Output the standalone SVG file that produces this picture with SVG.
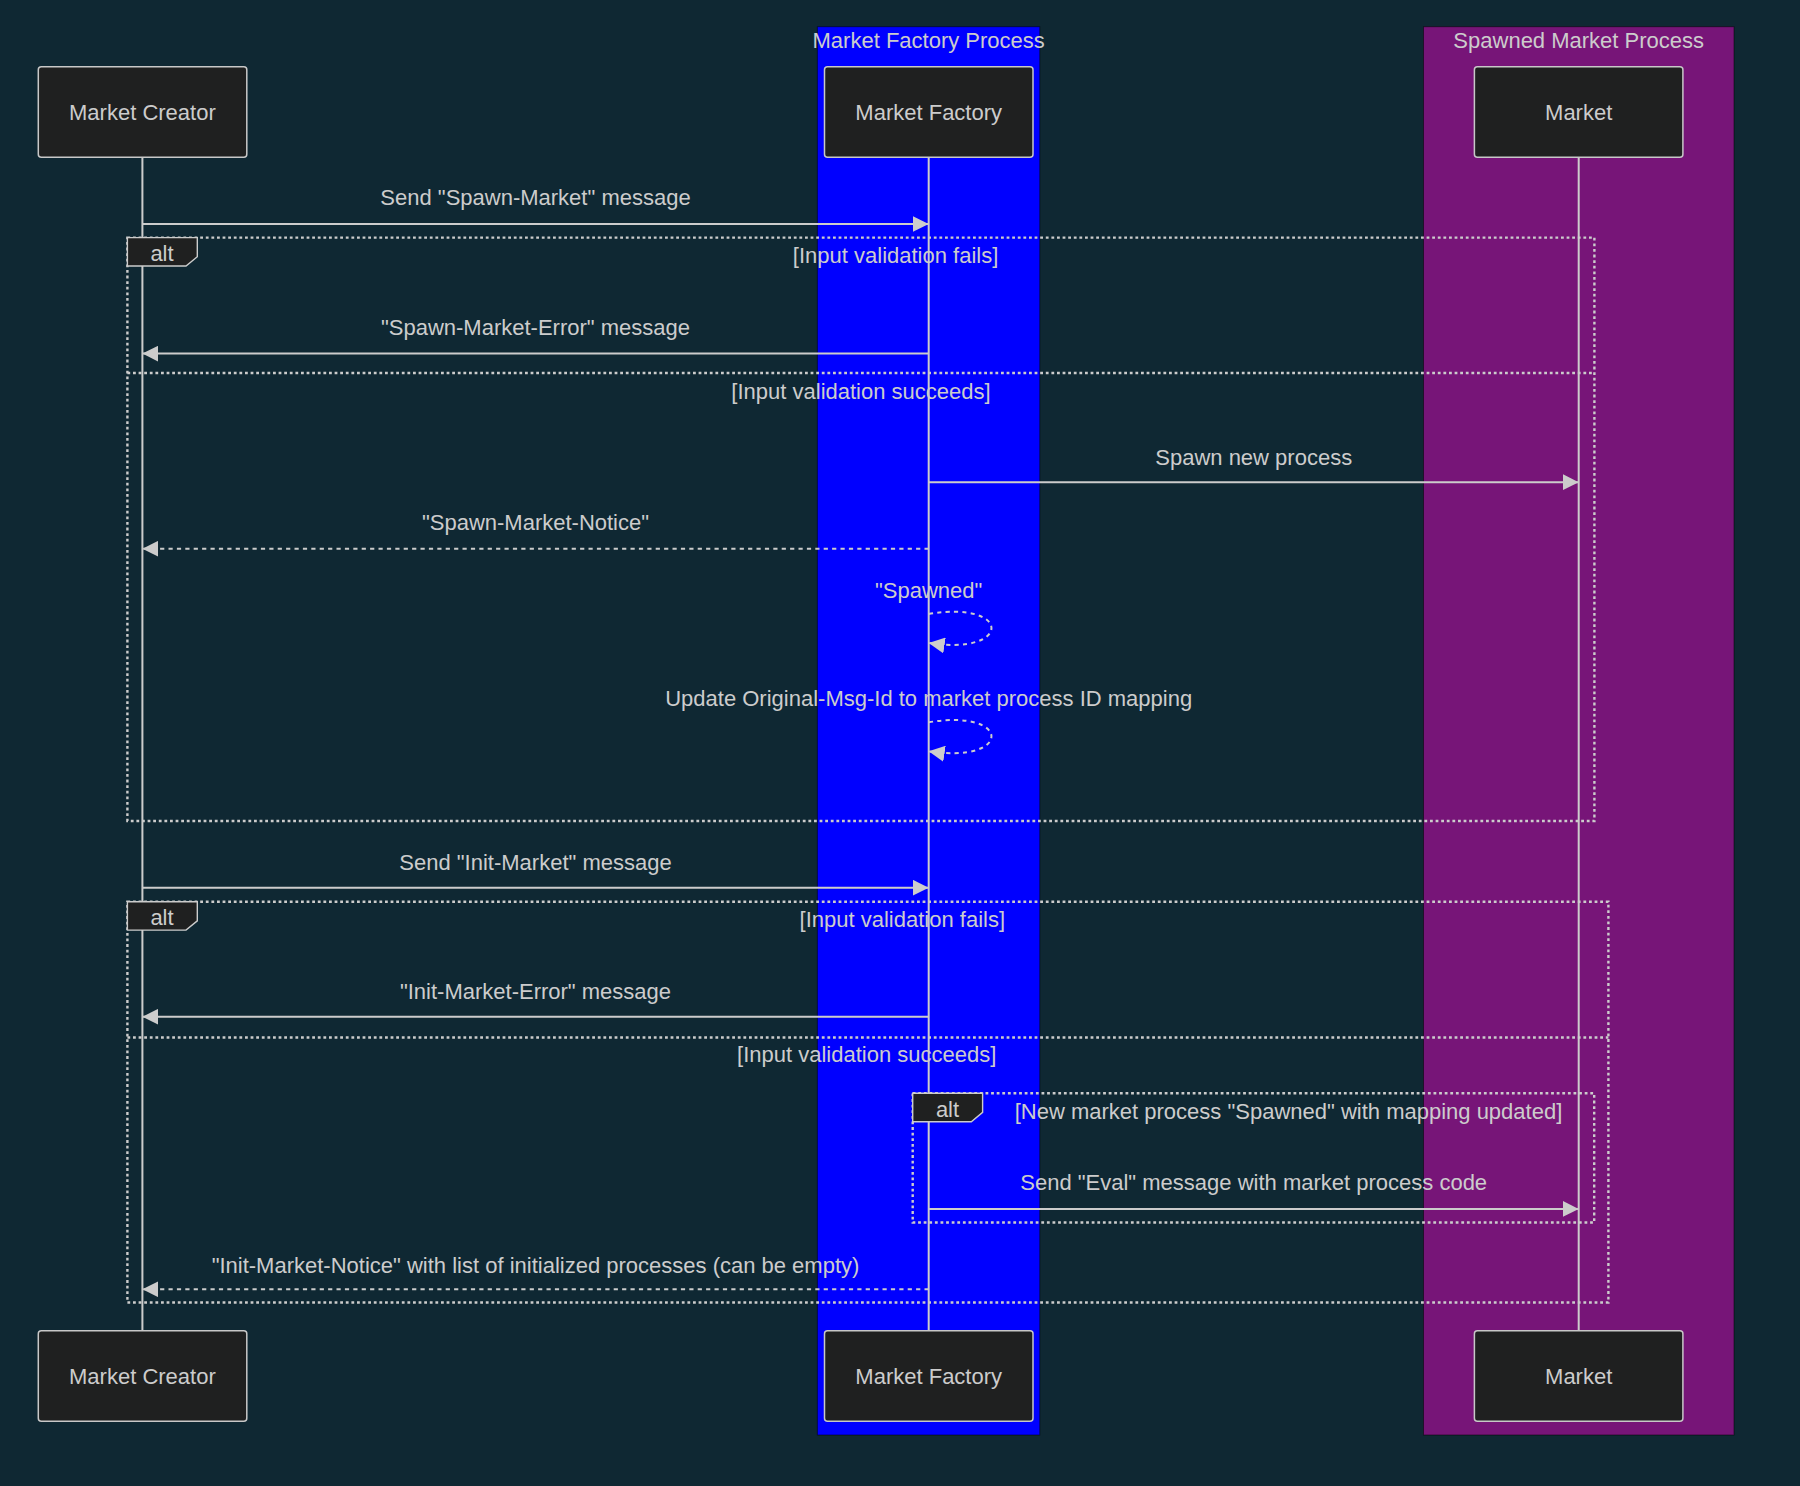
<svg xmlns="http://www.w3.org/2000/svg" width="1800" height="1486" viewBox="0 0 1800 1486">
<style>
text{font-family:"Liberation Sans",Arial,sans-serif;font-size:22px;fill:#cccccc;text-anchor:middle}
.actor{fill:#1f2020;stroke:#c8c8c8;stroke-width:1.5}
.life{stroke:#cccccc;stroke-width:2}
.msg{stroke:#cccccc;stroke-width:2;fill:none;marker-end:url(#arr)}
.dash{stroke-dasharray:4.2,4.2}
.loop{stroke:#cccccc;stroke-width:2.4;fill:none;stroke-dasharray:2.8,2.8}
.lbl{fill:#1f2020;stroke:#cccccc;stroke-width:1.4}
</style>
<defs>
<marker id="arr" viewBox="0 0 16 16" refX="16" refY="8" markerWidth="16" markerHeight="16" markerUnits="userSpaceOnUse" orient="auto">
<path d="M0,0 L16,8 L0,16 z" fill="#cccccc"/>
</marker>
</defs>
<rect x="0" y="0" width="1800" height="1486" fill="#0f2833"/>
<g id="box-factory">
<rect x="817.4" y="26.7" width="222.4" height="1408.3" fill="#0000ff" stroke="#000000" stroke-opacity="0.5" stroke-width="1"/>
<text x="928.7" y="48.3">Market Factory Process</text>
</g>
<g id="box-spawned">
<rect x="1423.5" y="26.7" width="310.5" height="1408.3" fill="#771578" stroke="#000000" stroke-opacity="0.5" stroke-width="1"/>
<text x="1578.7" y="48.3">Spawned Market Process</text>
</g>
<g id="lifelines">
<line class="life" x1="142.4" y1="157.3" x2="142.4" y2="1330.7"/>
<line class="life" x1="928.7" y1="157.3" x2="928.7" y2="1330.7"/>
<line class="life" x1="1578.7" y1="157.3" x2="1578.7" y2="1330.7"/>
</g>
<g id="actor-creator">
<rect class="actor" x="38.3" y="66.7" width="208.5" height="90.6" rx="3"/>
<text x="142.4" y="119.5">Market Creator</text>
<rect class="actor" x="38.3" y="1330.7" width="208.5" height="90.6" rx="3"/>
<text x="142.4" y="1384">Market Creator</text>
</g>
<g id="actor-factory">
<rect class="actor" x="824.5" y="66.7" width="208.5" height="90.6" rx="3"/>
<text x="928.7" y="119.5">Market Factory</text>
<rect class="actor" x="824.5" y="1330.7" width="208.5" height="90.6" rx="3"/>
<text x="928.7" y="1384">Market Factory</text>
</g>
<g id="actor-market">
<rect class="actor" x="1474.4" y="66.7" width="208.5" height="90.6" rx="3"/>
<text x="1578.7" y="119.5">Market</text>
<rect class="actor" x="1474.4" y="1330.7" width="208.5" height="90.6" rx="3"/>
<text x="1578.7" y="1384">Market</text>
</g>
<g id="alt1">
<rect class="loop" x="127.4" y="237.6" width="1467" height="583.4"/>
<line class="loop" x1="127.4" y1="373" x2="1594.4" y2="373"/>
<polygon class="lbl" points="127.4,237.6 197.3,237.6 197.3,256.7 186,266 127.4,266"/>
<text x="162" y="261">alt</text>
<text x="895.6" y="263">[Input validation fails]</text>
<text x="861" y="399">[Input validation succeeds]</text>
</g>
<g id="alt2">
<rect class="loop" x="127.4" y="901.7" width="1481" height="400.8"/>
<line class="loop" x1="127.4" y1="1037.5" x2="1608.4" y2="1037.5"/>
<polygon class="lbl" points="127.4,901.7 197.3,901.7 197.3,920.8 186,930.1 127.4,930.1"/>
<text x="162" y="925">alt</text>
<text x="902.3" y="927">[Input validation fails]</text>
<text x="866.7" y="1062">[Input validation succeeds]</text>
</g>
<g id="alt3">
<rect class="loop" x="912.7" y="1093.3" width="681.5" height="129.2"/>
<polygon class="lbl" points="912.7,1093.3 982.6,1093.3 982.6,1112.4 971.3,1121.7 912.7,1121.7"/>
<text x="947.5" y="1117">alt</text>
<text x="1288.5" y="1118.5">[New market process "Spawned" with mapping updated]</text>
</g>
<g id="connectors">
<line class="msg" x1="142.4" y1="224" x2="928.7" y2="224"/>
<text x="535.5" y="205">Send "Spawn-Market" message</text>
<line class="msg" x1="928.7" y1="353.6" x2="142.4" y2="353.6"/>
<text x="535.5" y="334.5">"Spawn-Market-Error" message</text>
<line class="msg" x1="928.7" y1="482.2" x2="1578.7" y2="482.2"/>
<text x="1253.7" y="464.5">Spawn new process</text>
<line class="msg dash" x1="928.7" y1="548.7" x2="142.4" y2="548.7"/>
<text x="535.5" y="530">"Spawn-Market-Notice"</text>
<path class="msg dash" d="M928.7,614 C1012.4,600 1012.4,656 928.7,643"/>
<text x="928.7" y="598">"Spawned"</text>
<path class="msg dash" d="M928.7,722.3 C1012.4,708.3 1012.4,764.3 928.7,751.3"/>
<text x="928.7" y="706">Update Original-Msg-Id to market process ID mapping</text>
<line class="msg" x1="142.4" y1="887.7" x2="928.7" y2="887.7"/>
<text x="535.5" y="870">Send "Init-Market" message</text>
<line class="msg" x1="928.7" y1="1016.7" x2="142.4" y2="1016.7"/>
<text x="535.5" y="999">"Init-Market-Error" message</text>
<line class="msg" x1="928.7" y1="1208.9" x2="1578.7" y2="1208.9"/>
<text x="1253.7" y="1190">Send "Eval" message with market process code</text>
<line class="msg dash" x1="928.7" y1="1289.3" x2="142.4" y2="1289.3"/>
<text x="535.5" y="1272.5">"Init-Market-Notice" with list of initialized processes (can be empty)</text>
</g>
</svg>
